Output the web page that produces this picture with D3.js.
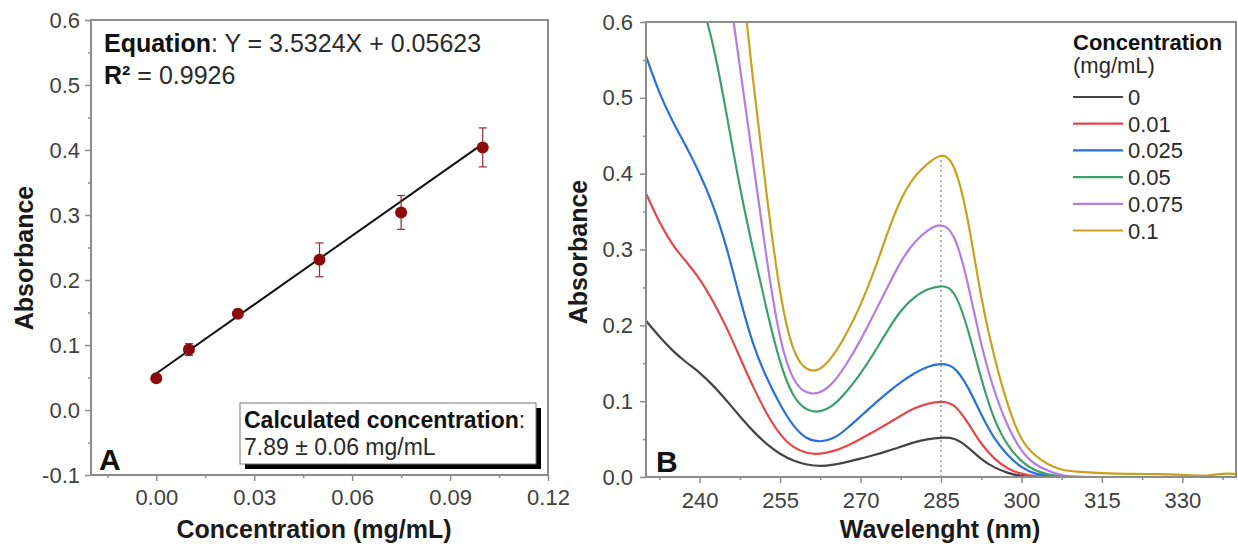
<!DOCTYPE html>
<html lang="en">
  <head>
    <meta charset="utf-8" />
    <title>Calibration curve and UV spectra</title>
    <script src="https://d3js.org/d3.v7.min.js"></script>
    <style>
      body {
        margin: 0;
        background: #fff;
        font-family: "Liberation Sans", Arial, sans-serif;
      }
      .tick text {
        font-size: 22px;
        fill: #404040;
        font-family: "Liberation Sans", Arial, sans-serif;
      }
      .tick line {
        stroke: #8c8c8c;
        stroke-width: 1.5px;
      }
      .frame {
        fill: none;
        stroke: #8c8c8c;
        stroke-width: 2px;
      }
      .title {
        font-size: 25px;
        font-weight: bold;
        fill: #1a1a1a;
      }
      .note {
        fill: #2a2a2a;
      }
    </style>
  </head>
  <body>
    <svg id="chart" width="1238" height="553"></svg>
    <script>
      // ---- panel A: calibration points ----
      const conc = [0, 0.01, 0.025, 0.05, 0.075, 0.1];
      const absA = [0.049, 0.093, 0.148, 0.231, 0.304, 0.404];
      const errA = [0.003, 0.009, 0.003, 0.026, 0.026, 0.03];
      const slope = 3.5324,
        intercept = 0.05623;
      const fitX = [0, 0.1];

      // ---- panel B: spectra ----
      const wl = [
        230, 232.5, 235, 237.5, 240, 242.5, 245, 247.5, 250, 252.5, 255, 257.5,
        260, 262.5, 265, 267.5, 270, 272.5, 275, 277.5, 280, 282.5, 285, 287.5,
        290, 292.5, 295, 297.5, 300, 302.5, 305, 307.5, 310, 315, 320, 325, 330,
        335, 337.5, 340,
      ];
      const s0 = [
        0.206, 0.185, 0.166, 0.151, 0.138, 0.121, 0.101, 0.08, 0.06, 0.043, 0.03,
        0.021, 0.016, 0.014, 0.016, 0.02, 0.024, 0.029, 0.034, 0.04, 0.046, 0.05,
        0.052, 0.052, 0.04, 0.023, 0.012, 0.005, 0.001, 0, 0, 0, 0, 0, 0, 0, 0,
        0, 0, 0,
      ];
      const s001 = [
        0.374, 0.335, 0.305, 0.284, 0.262, 0.232, 0.198, 0.158, 0.118, 0.083,
        0.055, 0.038, 0.031, 0.03, 0.034, 0.041, 0.05, 0.06, 0.07, 0.081, 0.091,
        0.097, 0.1, 0.097, 0.072, 0.043, 0.023, 0.01, 0.004, 0.001, 0, 0, 0, 0,
        0, 0, 0, 0, 0, 0,
      ];
      const s0025 = [
        0.555, 0.505, 0.468, 0.436, 0.401, 0.36, 0.305, 0.235, 0.172, 0.13,
        0.095, 0.066, 0.049, 0.046, 0.05, 0.064, 0.08, 0.096, 0.111, 0.125,
        0.137, 0.146, 0.15, 0.147, 0.12, 0.082, 0.049, 0.028, 0.012, 0.004,
        0.001, 0, 0, 0, 0, 0, 0, 0, 0, 0,
      ];
      const s005 = [
        0.95, 0.85, 0.77, 0.7, 0.635, 0.575, 0.48, 0.38, 0.298, 0.22, 0.148,
        0.103, 0.087, 0.085, 0.094, 0.113, 0.136, 0.163, 0.193, 0.22, 0.238,
        0.248, 0.253, 0.249, 0.197, 0.128, 0.072, 0.04, 0.02, 0.008, 0.003,
        0.001, 0, 0, 0, 0, 0, 0, 0, 0,
      ];
      const s0075 = [
        1.45, 1.3, 1.17, 1.03, 0.9, 0.79, 0.67, 0.54, 0.415, 0.285, 0.175,
        0.124, 0.109, 0.11, 0.124, 0.15, 0.18, 0.215, 0.25, 0.285, 0.31, 0.326,
        0.335, 0.324, 0.258, 0.172, 0.11, 0.065, 0.033, 0.016, 0.008, 0.002, 0,
        0, 0, 0, 0, 0, 0, 0,
      ];
      const s01 = [
        1.8, 1.62, 1.45, 1.3, 1.15, 1.0, 0.85, 0.68, 0.52, 0.37, 0.235, 0.16,
        0.139, 0.14, 0.16, 0.19, 0.226, 0.27, 0.322, 0.368, 0.397, 0.413, 0.428,
        0.417, 0.345, 0.232, 0.155, 0.092, 0.046, 0.028, 0.016, 0.009, 0.007,
        0.005, 0.004, 0.004, 0.003, 0.001, 0.005, 0.004,
      ];
      const legendLabels = ["0", "0.01", "0.025", "0.05", "0.075", "0.1"];
      const colors = ["#444444", "#e5474b", "#2a70d8", "#3d9f6c", "#b37de3", "#c9a11d"];
      const spectra = [s0, s001, s0025, s005, s0075, s01];
      const peakWl = 285;

      const svg = d3.select("#chart");

      function frame(g, w, h) {
        g.append("rect").attr("class", "frame").attr("width", w).attr("height", h);
      }

      // ================= Panel A =================
      const A = { left: 91, top: 20, right: 548, bottom: 475 };
      const xA = d3.scaleLinear().domain([-0.02, 0.12]).range([A.left, A.right]);
      const yA = d3.scaleLinear().domain([-0.1, 0.6]).range([A.bottom, A.top]);

      const gA = svg.append("g");

      gA.append("g")
        .attr("transform", `translate(0,${A.bottom})`)
        .call(d3.axisBottom(xA).tickValues([-0.015, 0.015, 0.045, 0.075, 0.105]).tickSize(3).tickFormat(""))
        .call((g) => g.select(".domain").remove());
      gA.append("g")
        .attr("transform", `translate(0,${A.bottom})`)
        .call(
          d3.axisBottom(xA).tickValues([0, 0.03, 0.06, 0.09, 0.12]).tickSize(6).tickPadding(8)
            .tickFormat((d) => d.toFixed(2))
        )
        .call((g) => g.select(".domain").remove());
      gA.append("g")
        .attr("transform", `translate(${A.left},0)`)
        .call(d3.axisLeft(yA).tickValues(d3.range(-0.05, 0.6, 0.1)).tickSize(3).tickFormat(""))
        .call((g) => g.select(".domain").remove());
      gA.append("g")
        .attr("transform", `translate(${A.left},0)`)
        .call(
          d3.axisLeft(yA).tickValues(d3.range(-0.1, 0.61, 0.1)).tickSize(6).tickPadding(5)
            .tickFormat((d) => d.toFixed(1))
        )
        .call((g) => g.select(".domain").remove());

      gA.append("g").attr("transform", `translate(${A.left},${A.top})`)
        .call(frame, A.right - A.left, A.bottom - A.top);

      // fit line
      gA.append("line")
        .attr("x1", xA(fitX[0])).attr("y1", yA(slope * fitX[0] + intercept))
        .attr("x2", xA(fitX[1])).attr("y2", yA(slope * fitX[1] + intercept))
        .attr("stroke", "#111").attr("stroke-width", 2);

      // error bars
      const eb = gA.append("g").attr("stroke", "#9a2a2a").attr("stroke-width", 1.2);
      conc.forEach((c, i) => {
        const x = xA(c);
        eb.append("line").attr("x1", x).attr("x2", x)
          .attr("y1", yA(absA[i] - errA[i])).attr("y2", yA(absA[i] + errA[i]));
        [absA[i] - errA[i], absA[i] + errA[i]].forEach((v) => {
          eb.append("line").attr("x1", x - 4).attr("x2", x + 4).attr("y1", yA(v)).attr("y2", yA(v));
        });
      });

      gA.append("g").selectAll("circle")
        .data(conc)
        .join("circle")
        .attr("cx", (d) => xA(d))
        .attr("cy", (d, i) => yA(absA[i]))
        .attr("r", 6)
        .attr("fill", "#8b0a0a");

      // equation text
      const eq = gA.append("text").attr("class", "note").attr("x", 104).attr("y", 52).style("font-size", "25px");
      eq.append("tspan").attr("font-weight", "bold").attr("fill", "#111").text("Equation");
      eq.append("tspan").text(`: Y = ${slope}X + 0.0${Math.round(intercept * 100000)}`);
      const r2 = gA.append("text").attr("class", "note").attr("x", 104).attr("y", 84).style("font-size", "25px");
      r2.append("tspan").attr("font-weight", "bold").attr("fill", "#111").text("R²");
      r2.append("tspan").text(" = 0.9926");

      // calculated concentration box
      const box = { x: 240, y: 403, w: 296, h: 61 };
      gA.append("rect").attr("x", box.x + 5).attr("y", box.y + 5).attr("width", box.w).attr("height", box.h).attr("fill", "#000");
      gA.append("rect").attr("x", box.x).attr("y", box.y).attr("width", box.w).attr("height", box.h)
        .attr("fill", "#fff").attr("stroke", "#777").attr("stroke-width", 1);
      const cc = gA.append("text").attr("class", "note").attr("x", box.x + 4).attr("y", box.y + 25).style("font-size", "23px");
      cc.append("tspan").attr("font-weight", "bold").attr("fill", "#111").text("Calculated concentration");
      cc.append("tspan").text(":");
      gA.append("text").attr("class", "note").attr("x", box.x + 4).attr("y", box.y + 52).style("font-size", "23px")
        .text("7.89 ± 0.06 mg/mL");

      gA.append("text").attr("x", 99).attr("y", 470).attr("font-size", 30).attr("font-weight", "bold").attr("fill", "#111").text("A");

      gA.append("text").attr("class", "title").attr("text-anchor", "middle")
        .attr("transform", `translate(33,258) rotate(-90)`).text("Absorbance");
      gA.append("text").attr("class", "title").attr("text-anchor", "middle")
        .attr("x", 314).attr("y", 538).text("Concentration (mg/mL)");

      // ================= Panel B =================
      const B = { left: 646, top: 22, right: 1236, bottom: 477 };
      const xB = d3.scaleLinear().domain([230, 340]).range([B.left, B.right]);
      const yB = d3.scaleLinear().domain([0, 0.6]).range([B.bottom, B.top]);

      const gB = svg.append("g");

      gB.append("g")
        .attr("transform", `translate(0,${B.bottom})`)
        .call(d3.axisBottom(xB).tickValues(d3.range(232.5, 340, 15)).tickSize(3).tickFormat(""))
        .call((g) => g.select(".domain").remove());
      gB.append("g")
        .attr("transform", `translate(0,${B.bottom})`)
        .call(d3.axisBottom(xB).tickValues(d3.range(240, 331, 15)).tickSize(6).tickPadding(9).tickFormat(d3.format("d")))
        .call((g) => g.select(".domain").remove());
      gB.append("g")
        .attr("transform", `translate(${B.left},0)`)
        .call(d3.axisLeft(yB).tickValues(d3.range(0.05, 0.6, 0.1)).tickSize(3).tickFormat(""))
        .call((g) => g.select(".domain").remove());
      gB.append("g")
        .attr("transform", `translate(${B.left},0)`)
        .call(d3.axisLeft(yB).tickValues(d3.range(0, 0.61, 0.1)).tickSize(6).tickPadding(7).tickFormat((d) => d.toFixed(1)))
        .call((g) => g.select(".domain").remove());

      svg.append("clipPath").attr("id", "clipB")
        .append("rect").attr("x", B.left).attr("y", B.top).attr("width", B.right - B.left).attr("height", B.bottom - B.top);

      // dotted line at peak
      gB.append("line")
        .attr("x1", xB(peakWl)).attr("x2", xB(peakWl))
        .attr("y1", yB(0)).attr("y2", yB(s01[wl.indexOf(peakWl)]))
        .attr("stroke", "#999").attr("stroke-width", 1.5).attr("stroke-dasharray", "2,3");

      const line = d3.line()
        .x((d) => xB(d[0]))
        .y((d) => yB(d[1]))
        .curve(d3.curveBasis);

      gB.append("g").attr("clip-path", "url(#clipB)")
        .selectAll("path")
        .data(spectra)
        .join("path")
        .attr("d", (s) => line(wl.map((w, i) => [w, s[i]])))
        .attr("fill", "none")
        .attr("stroke", (d, i) => colors[i])
        .attr("stroke-width", 2.2);

      gB.append("g").attr("transform", `translate(${B.left},${B.top})`)
        .call(frame, B.right - B.left, B.bottom - B.top);

      // legend
      const lg = gB.append("g").attr("transform", "translate(1073,0)");
      lg.append("text").attr("y", 50).attr("font-size", 22).attr("font-weight", "bold").attr("fill", "#111").text("Concentration");
      lg.append("text").attr("y", 73).attr("font-size", 22).attr("fill", "#2a2a2a").text("(mg/mL)");
      legendLabels.forEach((lab, i) => {
        const y = 97 + i * 26.7;
        lg.append("line").attr("x1", 0).attr("x2", 50).attr("y1", y).attr("y2", y)
          .attr("stroke", colors[i]).attr("stroke-width", 2.2);
        lg.append("text").attr("x", 55).attr("y", y + 8).attr("font-size", 22).attr("fill", "#2a2a2a").text(lab);
      });

      gB.append("text").attr("x", 656).attr("y", 472).attr("font-size", 30).attr("font-weight", "bold").attr("fill", "#111").text("B");

      gB.append("text").attr("class", "title").attr("text-anchor", "middle")
        .attr("transform", `translate(587,252) rotate(-90)`).text("Absorbance");
      gB.append("text").attr("class", "title").attr("text-anchor", "middle")
        .attr("x", 940).attr("y", 538).text("Wavelenght (nm)");
    </script>
  </body>
</html>
